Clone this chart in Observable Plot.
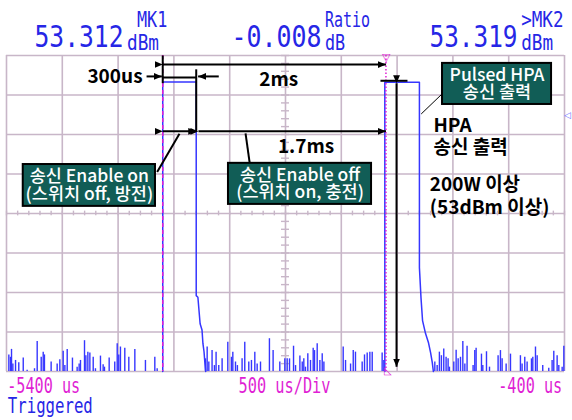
<!DOCTYPE html>
<html><head><meta charset="utf-8">
<script src="https://cdn.jsdelivr.net/npm/d3@7"></script>
<script src="https://cdn.jsdelivr.net/npm/@observablehq/plot@0.6"></script>
<style>
html,body{margin:0;padding:0;background:#fff;}
#chart{width:572px;height:420px;overflow:hidden;}
</style></head><body><div id="chart"></div>
<script>
// ---------------- data ----------------
const timeDomain = [-5400, -400];          // µs
const levelDomain = [-20, 60];             // dBm
const gridTimes = [-5400,-4900,-4400,-3900,-3400,-2900,-2400,-1900,-1400,-900,-400];
const gridLevels = [-20,-10,0,10,20,30,40,50,60];
const centerTime = -2900, centerLevel = 20;

const readingValues = ["53.312", "-0.008", "53.319"];
const readingUnits  = ["dBm", "dB", "dBm"];
const readingNames  = ["MK1", "Ratio", ">MK2"];
const axisLabels    = ["-5400 us", "500 us/Div", "-400 us"];
const statusLabel   = "Triggered";

const markerTimes = [-4000, -2000];        // MK1, MK2

const pulse1Time  = [-4000, -4000, -3700, -3700, -3685, -3665, -3648, -3640, -3630, -3623, -3615];
const pulse1Level = [-20, 53.3, 53.3, -0.8, -1.2, -7.9, -9.5, -12.9, -15, -17.6, -20];
const pulse2Time  = [-2010, -2010, -1700, -1700, -1686, -1672, -1645, -1618, -1600, -1585, -1575];
const pulse2Level = [-20, 53.2, 53.2, 6.3, -1.3, -7.1, -10.4, -12.8, -15.2, -17.7, -20];

const noiseTime = [-5379,-5364,-5355,-5343,-5319,-5290,-5250,-5215,-5149,-5125,-5089,-5071,-5060,-5000,-4946,-4922,-4892,-4877,-4856,-4809,-4767,-4749,-4737,-4701,-4689,-4671,-4653,-4623,-4603,-4558,-4534,-4522,-4480,-4430,-4408,-4394,-4379,-4340,-4304,-4250,-4155,-4071,-4050,
-3617,-3602,-3587,-3558,-3537,-3522,-3498,-3468,-3417,-3384,-3372,-3348,-3331,-3289,-3265,-3229,-3205,-3175,-3154,-3124,-3044,-3011,-2951,-2906,-2885,-2864,-2828,-2810,-2771,-2750,-2736,-2721,-2700,-2676,-2652,-2640,-2616,-2592,-2571,-2556,-2383,-2362,-2317,-2293,-2273,-2213,-2192,-2168,-2144,-2123,-2034,-2019,
-1562,-1541,-1521,-1503,-1482,-1461,-1443,-1431,-1392,-1371,-1353,-1332,-1311,-1293,-1273,-1219,-1204,-1192,-1144,-1132,-1099,-1072,-995,-974,-959,-923,-884,-795,-780,-756,-735,-696,-684,-660,-645,-595,-541,-511,-496,-466,-451,-421,-406];
const noiseLevel = [-15.8,-16.4,-14.4,-18.1,-17.2,-17.8,-16.6,-19.7,-19.3,-12.4,-16.4,-15.1,-15.8,-17.6,-18.1,-17.0,-14.9,-18.5,-14.4,-16.6,-18.9,-18.1,-17.2,-12.2,-16.0,-15.1,-15.3,-16.4,-19.3,-16.1,-18.3,-18.9,-16.6,-17.6,-13.0,-15.8,-13.8,-14.1,-16.4,-14.4,-17.2,-16.4,-19.3,
-16.8,-13.8,-17.6,-14.7,-18.5,-15.1,-18.5,-16.8,-12.6,-16.4,-15.1,-17.6,-18.5,-16.8,-12.6,-17.6,-17.2,-15.1,-18.1,-17.6,-11.7,-14.7,-17.6,-16.8,-16.8,-16.8,-13.6,-18.5,-16.1,-17.6,-16.8,-18.9,-15.5,-17.2,-14.1,-14.7,-13.0,-17.2,-15.5,-17.6,-13.8,-17.2,-18.1,-14.7,-15.1,-17.6,-15.8,-15.3,-15.1,-15.1,-15.3,-17.2,
-17.6,-18.5,-15.1,-16.0,-14.3,-16.4,-16.8,-18.9,-17.6,-14.6,-16.8,-16.4,-12.4,-18.1,-13.6,-18.5,-14.7,-14.1,-15.6,-18.5,-15.0,-18.9,-16.0,-14.7,-16.8,-18.1,-15.6,-16.0,-18.1,-16.4,-17.6,-16.8,-16.4,-13.8,-16.0,-18.5,-19.2,-17.2,-14.9,-16.0,-18.5,-18.9,-13.6];

// annotations (time µs, level dBm)
const doubleArrows = [            // t1, v1, t2, v2
  [-4000, 57.7, -2000, 57.7],     // 2ms
  [-4000, 40.8, -3700, 40.8],     // enable on
  [-3680, 40.8, -2000, 40.8],     // 1.7ms
  [-1905, 53.0, -1905, -18.8]     // HPA output level
];
const singleArrows = [
  [-4145, 54.7, -4008, 54.7],
  [-3498, 54.7, -3683, 54.7]
];
const bracketLines = [
  [-4000, 60, -4000, 53.0],
  [-4000, 54.4, -3700, 54.4],
  [-3700, 56.5, -3700, 40.8],
  [-2049, 53.6, -1807, 53.6],
  [-4050, 30.5, -3850, 40.2],
  [-3222, 33.0, -3258, 40.3]
];
const thinLines = [[-1496, 50.3, -1684, 45.2]];

const noteText  = ["300us", "2ms", "1.7ms", "HPA", "송신 출력", "200W 이상", "(53dBm 이상)"];
const noteTime  = [-4181, -2960, -2716, -1574, -1574, -1607, -1607];
const noteLevel = [54.7, 53.9, 36.8, 42.3, 36.5, 27.3, 21.3];
const noteAnchor = ["end", "middle", "middle", "start", "start", "start", "start"];

const boxText = ["송신 Enable on\n(스위치 off, 방전)", "송신 Enable off\n(스위치 on, 충전)", "Pulsed HPA\n송신 출력"];
const boxT1 = [-5250, -3411, -1493];
const boxT2 = [-4065, -2129, -516];
const boxV1 = [21.8, 22.3, 47.6];
const boxV2 = [32.4, 32.7, 58.0];

// ---------------- style ----------------
const GRID = "#c8b6c8", TRACE = "#3636ff", MAG = "#e01ed4", TXTBLUE = "#2626e6", BOXFILL = "#115d56";
const MONO = "DejaVu Sans Mono, monospace";
const KR = "Noto Sans CJK KR, Noto Sans, sans-serif";
const M = {top: 55, right: 8, bottom: 49, left: 6};

const seg = (arr) => arr.map(([x1, y1, x2, y2]) => ({x1, y1, x2, y2}));
const noise = noiseTime.map((t, i) => ({t, v: noiseLevel[i]}));
const p1 = pulse1Time.map((t, i) => ({t, v: pulse1Level[i]}));
const p2 = pulse2Time.map((t, i) => ({t, v: pulse2Level[i]}));
const notes = noteText.map((s, i) => ({s, t: noteTime[i], v: noteLevel[i], a: noteAnchor[i]}));
const boxes = boxText.map((s, i) => ({s, t1: boxT1[i], t2: boxT2[i], v1: boxV1[i], v2: boxV2[i]}));

// header/footer labels: [text, left, baseline, size, color, width]
const frameLabels = [
  [readingValues[0], 34, 46, 31, TXTBLUE, 89],
  [readingUnits[0], 126.5, 49.5, 22, TXTBLUE, 32],
  [readingNames[0], 136.4, 26.4, 22, TXTBLUE, 30.4],
  [readingValues[1], 231, 46, 31, TXTBLUE, 90],
  [readingNames[1], 324.5, 26.4, 22, TXTBLUE, 45],
  [readingUnits[1], 324.5, 49.5, 22, TXTBLUE, 20.2],
  [readingValues[2], 429, 46, 31, TXTBLUE, 88],
  [readingNames[2], 520.7, 26.4, 22, TXTBLUE, 42.3],
  [readingUnits[2], 520.7, 49.5, 22, TXTBLUE, 32],
  [axisLabels[0], 6.7, 392.5, 22, MAG, 73],
  [axisLabels[1], 238, 392, 22, MAG, 92],
  [axisLabels[2], 497.7, 392, 22, MAG, 64],
  [statusLabel, 7.3, 412.5, 22, TXTBLUE, 85]
];
const widthOf = new Map(frameLabels.map(d => [d[0], d[5]]));

const labelMarks = frameLabels.map(([s, left, base, size, color]) =>
  Plot.text([s], {text: d => d, frameAnchor: "top-left", dx: left - M.left, dy: base - M.top,
    lineAnchor: "bottom", textAnchor: "start", fontSize: size, fill: color, fontFamily: MONO})
);

const svg = Plot.plot({
  width: 572, height: 420,
  marginTop: M.top, marginRight: M.right, marginBottom: M.bottom, marginLeft: M.left,
  x: {domain: timeDomain, axis: null},
  y: {domain: levelDomain, axis: null},
  style: {background: "white", overflow: "visible"},
  marks: [
    Plot.ruleX(gridTimes, {stroke: GRID, strokeWidth: 1.6}),
    Plot.ruleY(gridLevels, {stroke: GRID, strokeWidth: 1.6}),
    Plot.ruleX(d3.range(timeDomain[0], timeDomain[1] + 1, 100), {y1: centerLevel - 0.6, y2: centerLevel + 0.6, stroke: GRID, strokeWidth: 1.4}),
    Plot.ruleY(d3.range(levelDomain[0], levelDomain[1] + 1, 2), {x1: centerTime - 36, x2: centerTime + 36, stroke: GRID, strokeWidth: 1.4}),
    Plot.ruleX(noise, {x: "t", y1: levelDomain[0], y2: "v", stroke: TRACE, strokeWidth: 1.4}),
    Plot.line(p1, {x: "t", y: "v", stroke: TRACE, strokeWidth: 1.5}),
    Plot.line(p2, {x: "t", y: "v", stroke: TRACE, strokeWidth: 1.5}),
    Plot.ruleX([markerTimes[0]], {stroke: MAG, strokeWidth: 1.5, strokeDasharray: "4,3"}),
    Plot.ruleX([markerTimes[1]], {stroke: MAG, strokeWidth: 1.5, strokeDasharray: "1.5,2"}),
    Plot.text(["▽"], {x: markerTimes[1], y: levelDomain[1], text: d => d, lineAnchor: "top", dy: -2, fill: MAG, fontSize: 11}),
    Plot.text(["◺"], {x: markerTimes[1], y: levelDomain[0], text: d => d, lineAnchor: "bottom", textAnchor: "start", dx: -2, dy: 2, fill: MAG, fontSize: 10}),
    Plot.text(["◁"], {x: timeDomain[1], y: 45, text: d => d, textAnchor: "start", dx: -1, fill: "#6a6aff", fontSize: 9}),
    // annotations
    Plot.link(seg(bracketLines), {x1: "x1", y1: "y1", x2: "x2", y2: "y2", stroke: "black", strokeWidth: 2}),
    Plot.link(seg(thinLines), {x1: "x1", y1: "y1", x2: "x2", y2: "y2", stroke: "black", strokeWidth: 1}),
    Plot.link(seg(doubleArrows), {x1: "x1", y1: "y1", x2: "x2", y2: "y2", stroke: "black", strokeWidth: 2, markerStart: "arrow", markerEnd: "arrow"}),
    Plot.link(seg(singleArrows), {x1: "x1", y1: "y1", x2: "x2", y2: "y2", stroke: "black", strokeWidth: 2, markerEnd: "arrow"}),
    Plot.rect(boxes, {x1: "t1", x2: "t2", y1: "v1", y2: "v2", fill: BOXFILL, stroke: "black", strokeWidth: 2}),
    Plot.text(boxes, {x: d => (d.t1 + d.t2) / 2, y: d => (d.v1 + d.v2) / 2, text: "s", fill: "white", fontSize: 17.5, fontWeight: 500, fontFamily: KR, lineHeight: 1.0}),
    Plot.text(notes.filter(d => d.a === "end"), {x: "t", y: "v", text: "s", textAnchor: "end", fontSize: 19, fontWeight: "bold", fontFamily: KR, fill: "black"}),
    Plot.text(notes.filter(d => d.a === "middle"), {x: "t", y: "v", text: "s", textAnchor: "middle", fontSize: 19, fontWeight: "bold", fontFamily: KR, fill: "black"}),
    Plot.text(notes.filter(d => d.a === "start"), {x: "t", y: "v", text: "s", textAnchor: "start", fontSize: 19, fontWeight: "bold", fontFamily: KR, fill: "black"}),
    ...labelMarks
  ]
});

// filled arrowheads
d3.select(svg).selectAll("marker")
  .attr("viewBox", "-8 -4 8 8").attr("markerWidth", 4).attr("markerHeight", 4)
  .attr("fill", function() { return this.getAttribute("stroke"); }).attr("stroke", "none")
  .select("path").attr("d", "M-8,-3.4L0,0L-8,3.4Z");

// condensed instrument font
d3.select(svg).selectAll("text").each(function() {
  const w = widthOf.get(this.textContent);
  if (w) { this.setAttribute("textLength", w); this.setAttribute("lengthAdjust", "spacingAndGlyphs"); }
});

document.getElementById("chart").appendChild(svg);
</script></body></html>
